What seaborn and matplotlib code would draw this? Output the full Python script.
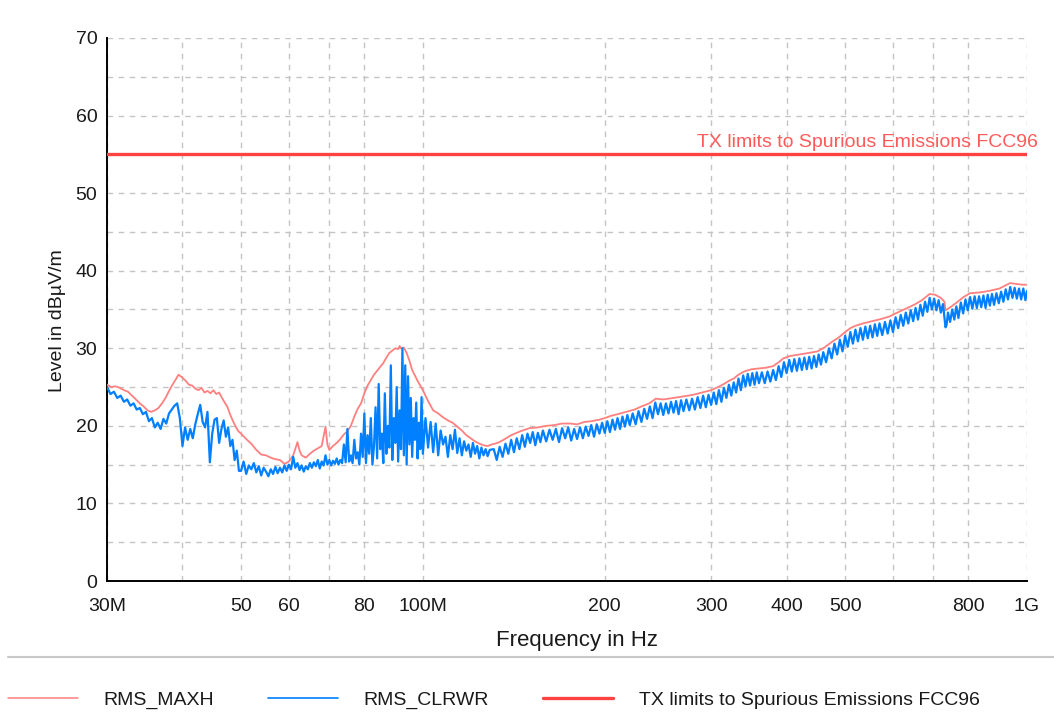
import matplotlib
matplotlib.use("Agg")
import matplotlib.pyplot as plt
from matplotlib.lines import Line2D
import pandas as pd
import seaborn as sns

# ---------------- data ----------------
# RMS_MAXH trace (frequency in MHz, level in dBuV/m)
maxh_freq = [
    30, 30.5, 31, 31.5, 32, 32.5, 33, 33.5, 34, 34.5,
    35, 35.5, 36, 36.5, 37, 37.5, 38, 38.5, 39, 39.4,
    40, 40.5, 41, 41.5, 42, 42.5, 43, 43.5, 44, 44.5,
    45, 45.5, 46, 46.5, 47, 47.5, 48, 48.5, 49, 49.5,
    50, 51, 52, 53, 54, 55, 56, 57, 58, 59,
    60, 61, 62, 62.5, 63, 64, 65, 66, 67, 68,
    69, 69.5, 70, 71, 72, 73, 74, 75, 76, 77,
    78, 79, 80, 81, 82, 83, 84, 85, 86, 87,
    88, 89, 90, 91, 91.5, 92, 93, 94, 95, 96,
    97, 98, 99, 100, 102, 104, 106, 108, 110, 112,
    114, 116, 118, 120, 122, 124, 126, 128, 130, 133,
    136, 140, 145, 150, 155, 160, 165, 170, 175, 180,
    185, 190, 196, 200, 205, 210, 217, 224, 230, 237,
    243, 250, 260, 270, 280, 290, 300, 308, 315, 321,
    327, 333, 340, 350, 360, 370, 380, 388, 395, 405,
    420, 435, 450, 462, 475, 488, 500, 510, 520, 535,
    555, 575, 592, 610, 630, 650, 670, 690, 705, 720,
    730, 733, 740, 750, 765, 785, 805, 835, 866, 900,
    937, 960, 980, 1000,
]
maxh_level = [
    25.3, 25.0, 25.1, 24.9, 24.6, 24.4, 23.9, 23.4, 22.9, 22.5,
    22.0, 21.8, 22.0, 22.3, 22.9, 23.6, 24.5, 25.3, 26.0, 26.6,
    26.2, 25.8, 25.3, 25.2, 24.8, 24.6, 24.9, 24.3, 24.5, 24.2,
    24.6, 24.1, 24.3, 23.6, 23.0, 22.4, 21.4, 20.6, 19.9, 19.3,
    19.0, 18.3, 17.7, 16.9, 16.3, 16.2, 15.9, 15.7, 15.6, 15.1,
    15.4, 16.2, 17.9, 16.8, 16.2, 15.9, 16.4, 16.8, 17.1, 17.4,
    19.9, 17.6, 16.9, 17.4, 17.8, 18.3, 18.9, 19.3, 20.0, 21.2,
    22.2, 22.9, 24.2, 25.2, 25.9, 26.6, 27.1, 27.6, 28.1, 28.8,
    29.4, 29.7, 30.0, 29.9, 30.3, 30.0, 30.1, 29.4, 28.4, 27.2,
    26.5, 25.8, 25.2, 24.6, 23.2, 22.0, 21.6, 21.1, 20.7, 20.4,
    19.9, 19.4, 18.8, 18.4, 18.0, 17.7, 17.5, 17.4, 17.6, 17.8,
    18.2, 18.8, 19.3, 19.7, 19.8, 20.0, 20.1, 20.3, 20.3, 20.2,
    20.5, 20.6, 20.8, 21.0, 21.3, 21.5, 21.8, 22.1, 22.5, 22.9,
    23.5, 23.4, 23.6, 23.8, 24.0, 24.3, 24.6, 25.0, 25.4, 25.8,
    26.1, 26.6, 27.0, 27.3, 27.4, 27.5, 27.7, 28.2, 28.7, 29.0,
    29.2, 29.4, 29.6, 30.1, 30.8, 31.4, 32.1, 32.6, 32.9, 33.2,
    33.5, 33.8, 34.1, 34.6, 35.1, 35.6, 36.2, 37.0, 36.9, 36.5,
    36.0, 34.9, 35.1, 35.4, 35.9, 36.6, 37.1, 37.2, 37.4, 37.7,
    38.4, 38.3, 38.2, 38.2,
]

# RMS_CLRWR trace, 30 - 130 MHz
clrwr_freq_low = [
    30.0, 30.4, 30.8, 31.2, 31.6, 32.0, 32.4, 32.8, 33.2, 33.6,
    34.0, 34.4, 34.8, 35.2, 35.6, 36.0, 36.4, 36.8, 37.2, 37.6,
    38.0, 38.4, 38.8, 39.2, 39.6, 40.0, 40.4, 40.8, 41.2, 41.6,
    42.0, 42.4, 42.8, 43.2, 43.6, 44.0, 44.4, 44.8, 45.2, 45.6,
    46.0, 46.4, 46.8, 47.2, 47.6, 48.0, 48.4, 48.8, 49.2, 49.6,
    50.0, 50.5, 51.0, 51.5, 52.0, 52.5, 53.0, 53.5, 54.0, 54.5,
    55.0, 55.5, 56.0, 56.5, 57.0, 57.5, 58.0, 58.5, 59.0, 59.5,
    60.0, 60.5, 61.0, 61.5, 62.0, 62.5, 63.0, 63.5, 64.0, 64.5,
    65.0, 65.5, 66.0, 66.5, 67.0, 67.5, 68.0, 68.5, 69.0, 69.5,
    70.0, 70.5, 71.0, 71.5, 72.0, 72.5, 73.0, 73.5, 74.0, 74.5,
    75.0, 75.5, 76.0, 76.5, 77.0, 77.5, 78.0, 78.5, 79.0, 79.5,
    80.0, 80.5, 81.0, 81.5, 82.0, 82.5, 83.0, 83.5, 84.0, 84.5,
    85.0, 85.5, 86.0, 86.5, 87.0, 87.5, 88.0, 88.5, 89.0, 89.5,
    90.0, 90.5, 91.0, 91.5, 92.0, 92.5, 93.0, 93.5, 94.0, 94.5,
    95.0, 95.5, 96.0, 96.5, 97.0, 97.5, 98.0, 98.5, 99.0, 99.5,
    100, 101, 102, 103, 104, 105, 106, 107, 108, 109,
    110, 111, 112, 113, 114, 115, 116, 117, 118, 119,
    120, 121, 122, 123, 124, 125, 126, 127, 128, 129,
]
clrwr_level_low = [
    25.0, 24.1, 24.4, 23.6, 23.9, 23.1, 23.4, 22.6, 22.9, 22.1,
    22.3, 21.5, 21.8, 20.6, 21.0, 19.8, 20.4, 19.6, 20.9, 20.3,
    21.6, 22.1, 22.6, 22.9, 21.0, 17.4, 19.8, 18.2, 19.6, 18.4,
    20.2, 21.5, 22.7, 20.5, 19.8, 21.8, 15.3, 19.0, 20.8, 21.0,
    17.8, 19.6, 20.7, 18.6, 19.8, 17.4, 18.2, 15.6, 16.8, 14.2,
    14.2, 15.4, 13.8, 14.9, 14.4, 15.2, 14.0, 14.8, 13.6, 14.6,
    14.1, 13.5, 14.4, 13.8, 14.7, 13.9, 14.6, 14.0, 14.9, 14.2,
    15.0, 14.4, 16.0, 14.6, 15.2, 14.3, 14.9, 14.1, 14.8, 14.4,
    15.2, 14.6, 15.3, 14.8, 15.6, 14.5, 15.4, 14.9, 16.2, 15.0,
    15.6, 14.9, 15.5, 15.1, 15.8, 15.0, 15.6, 15.2, 17.6, 15.3,
    19.6, 15.4, 16.2, 15.2, 18.2, 15.8, 16.6, 15.0, 19.0, 16.0,
    21.6, 15.2, 18.8, 16.4, 21.0, 15.0, 17.4, 22.4, 15.8, 25.4,
    17.0, 19.0, 15.2, 24.2, 16.4, 20.0, 17.2, 27.8, 15.6, 21.0,
    17.8, 25.0, 15.4, 22.0, 17.0, 30.0, 16.2, 27.8, 15.0, 26.4,
    17.6, 23.6, 16.0, 21.0, 18.2, 23.0, 15.8, 20.4, 17.0, 23.7,
    16.4, 21.0, 17.2, 20.5, 16.6, 20.3, 16.2, 19.4, 17.6, 18.6,
    16.0, 18.8, 17.0, 19.5, 16.5, 18.4, 16.2, 18.0, 16.8, 17.6,
    16.0, 17.8, 16.4, 17.4, 15.8, 17.2, 16.2, 17.0, 16.1, 16.9,
]

# RMS_CLRWR trace, 130 MHz - 1 GHz
clrwr_freq_high = [
    131, 132.5, 134, 135.5, 137, 138.5, 140, 141.5, 143, 144.5,
    146, 147.5, 149, 150.5, 152, 153.5, 155, 156.5, 158, 160,
    162, 164, 166, 168, 170, 172, 174, 176, 178, 180,
    182, 184, 186, 188, 190, 192, 194, 196, 198, 200,
    202, 204, 206, 208, 210, 212, 214, 216, 218, 220,
    222.5, 225, 227.5, 230, 232.5, 235, 237.5, 240, 242.5, 245,
    247.5, 250, 252.5, 255, 257.5, 260, 262.5, 265, 267.5, 270,
    273, 276, 279, 282, 285, 288, 291, 294, 297, 300,
    303, 306, 309, 312, 315, 318, 321, 324, 327, 330,
    333, 336, 339, 342, 345, 348, 351, 354, 357, 360,
    364, 368, 372, 376, 380, 384, 388, 392, 396, 400,
    404, 408, 412, 416, 420, 424, 428, 432, 436, 440,
    444, 448, 452, 456, 460, 465, 470, 475, 480, 485,
    490, 495, 500, 505, 510, 515, 520, 525, 530, 535,
    540, 545, 550, 555, 560, 565, 570, 576, 582, 588,
    594, 600, 606, 612, 618, 624, 630, 636, 642, 648,
    654, 660, 666, 672, 678, 684, 690, 696, 702, 708,
    714, 720, 726, 730, 733, 736, 740, 746, 752, 758,
    764, 770, 777, 784, 791, 798, 805, 812, 819, 826,
    833, 840, 847, 854, 861, 868, 875, 882, 890, 898,
    906, 914, 922, 930, 938, 946, 954, 962, 970, 978,
    986, 994, 1000,
]
clrwr_level_high = [
    17.0, 15.6, 17.3, 16.0, 17.7, 16.4, 18.2, 16.6, 18.4, 17.0,
    18.8, 17.3, 19.0, 17.8, 19.2, 17.5, 19.1, 17.9, 19.4, 18.0,
    19.5, 18.2, 19.6, 17.9, 19.7, 18.4, 19.8, 18.1, 19.6, 18.3,
    19.8, 18.4, 19.9, 18.7, 20.1, 18.6, 20.2, 19.0, 20.4, 19.1,
    20.6, 19.2, 20.8, 19.5, 21.0, 19.6, 21.2, 19.9, 21.4, 20.1,
    21.6, 20.2, 21.9, 20.5, 22.2, 20.9, 22.5, 21.0, 23.0, 21.5,
    22.9, 21.4, 22.9, 21.6, 23.1, 21.7, 23.2, 21.5, 23.3, 21.9,
    23.4, 22.0, 23.5, 22.1, 23.7, 22.3, 23.9, 22.4, 24.0, 22.7,
    24.3, 22.8, 24.6, 23.1, 24.9, 23.6, 25.3, 23.9, 25.6, 24.3,
    26.1, 24.6, 26.5, 25.1, 26.7, 25.2, 26.8, 25.3, 26.9, 25.5,
    26.9, 25.5, 27.0, 25.7, 27.2, 25.9, 27.7, 26.3, 28.2, 26.8,
    28.5, 27.0, 28.6, 27.1, 28.7, 27.2, 28.8, 27.3, 28.9, 27.4,
    29.0, 27.6, 29.2, 27.9, 29.5, 28.2, 30.0, 28.7, 30.6, 29.2,
    31.1, 29.6, 31.6, 30.2, 32.1, 30.6, 32.4, 30.9, 32.6, 31.1,
    32.8, 31.3, 32.9, 31.4, 33.1, 31.6, 33.2, 31.7, 33.4, 31.9,
    33.6, 32.1, 34.0, 32.6, 34.3, 32.9, 34.6, 33.2, 34.9, 33.5,
    35.2, 33.7, 35.6, 34.2, 36.0, 34.7, 36.5, 35.0, 36.4, 34.9,
    36.2, 34.6, 35.7, 34.0, 32.7, 33.0, 34.6, 33.4, 35.0, 33.7,
    35.4, 33.9, 35.9, 34.5, 36.3, 34.9, 36.6, 35.1, 36.7, 35.2,
    36.7, 35.3, 36.8, 35.2, 36.9, 35.5, 37.0, 35.6, 37.1, 35.8,
    37.3, 36.0, 37.6, 36.3, 37.9, 36.5, 37.8, 36.4, 37.7, 36.3,
    37.7, 36.2, 37.4,
]

# limit line
limit_freq = [30, 1000]
limit_level = [55, 55]
limit_label = "TX limits to Spurious Emissions FCC96"

series_names = ["RMS_MAXH", "RMS_CLRWR", limit_label]

x_ticks = [30, 40, 50, 60, 70, 80, 100, 200, 300, 400, 500, 600, 700, 800, 1000]
x_tick_labels = ["30M", "", "50", "60", "", "80", "100M", "200", "300", "400", "500", "", "", "800", "1G"]
y_ticks = [0, 5, 10, 15, 20, 25, 30, 35, 40, 45, 50, 55, 60, 65, 70]
y_tick_labels = ["0", "", "10", "", "20", "", "30", "", "40", "", "50", "", "60", "", "70"]

# ---------------- plot ----------------
sns.set_theme(style="white")
plt.rcParams["font.family"] = ["Liberation Sans", "DejaVu Sans"]

W, H = 1054, 717
fig = plt.figure(figsize=(W / 100, H / 100), dpi=100)
ax = fig.add_axes([107 / W, 1 - 581 / H, 920 / W, 543 / H])

pink = "#FF8080"
blue = "#0080FF"
red = "#FF4242"

maxh_df = pd.DataFrame({"freq": maxh_freq, "level": maxh_level})
clrwr_df = pd.DataFrame({"freq": clrwr_freq_low + clrwr_freq_high,
                         "level": clrwr_level_low + clrwr_level_high})
limit_df = pd.DataFrame({"freq": limit_freq, "level": limit_level})

sns.lineplot(data=maxh_df, x="freq", y="level", ax=ax, color=pink, lw=1.3,
             estimator=None, sort=False, zorder=3)
sns.lineplot(data=clrwr_df, x="freq", y="level", ax=ax, color=blue, lw=1.6,
             estimator=None, sort=False, zorder=4)
sns.lineplot(data=limit_df, x="freq", y="level", ax=ax, color=red, lw=2.4,
             estimator=None, sort=False, zorder=5)

ax.set_xscale("log")
ax.set_xlim(30, 1000)
ax.set_ylim(0, 70)

ax.set_xticks(x_ticks)
ax.set_xticklabels(x_tick_labels)
ax.xaxis.set_minor_locator(matplotlib.ticker.NullLocator())
ax.set_yticks(y_ticks)
ax.set_yticklabels(y_tick_labels)

ax.grid(True, which="major", color="#c4c4c4", linestyle=(0, (4, 4)), lw=1.0, zorder=0)
ax.set_axisbelow(True)

for s in ["top", "right"]:
    ax.spines[s].set_visible(False)
for s in ["left", "bottom"]:
    ax.spines[s].set_color("black")
    ax.spines[s].set_linewidth(1.4)

ax.tick_params(axis="both", which="major", direction="inout", length=8, width=1.4,
               colors="black", labelsize=14, labelcolor="#1a1a1a")
ax.tick_params(axis="y", pad=3)
ax.tick_params(axis="x", pad=8)

ax.set_xlabel("Frequency in Hz", fontsize=16, color="#1a1a1a")
ax.set_ylabel("Level in dBµV/m", fontsize=14, color="#1a1a1a")
ax.xaxis.set_label_coords(0.511, -0.09)
ax.yaxis.set_label_coords(-0.045, 0.48)

ax.annotate(limit_label, xy=(1000, limit_level[0]), xytext=(11, 3),
            textcoords="offset pixels", ha="right", va="bottom",
            fontsize=14, color="#FF5A5A", annotation_clip=False)

# separator and legend
fig.add_artist(Line2D([8 / W, 1.0], [1 - 657 / H, 1 - 657 / H], transform=fig.transFigure,
                      color="#c8c8c8", lw=1.5))
handles = [Line2D([], [], color=pink, lw=1.1),
           Line2D([], [], color=blue, lw=1.2),
           Line2D([], [], color=red, lw=2.4)]
fig.legend(handles, series_names, loc="center left",
           bbox_to_anchor=(8 / W, 1 - 700 / H), ncol=3, frameon=False,
           fontsize=14, handlelength=3.6, handletextpad=1.3, columnspacing=2.8,
           borderpad=0, borderaxespad=0, labelcolor="#1a1a1a")

fig.savefig("out.png", dpi=100, facecolor="white")
